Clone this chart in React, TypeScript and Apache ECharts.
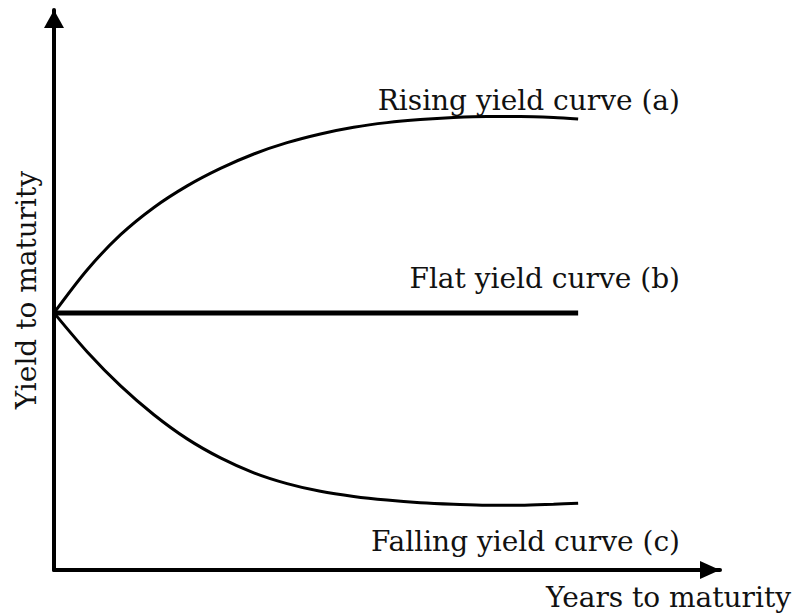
import React, { useEffect, useRef } from "react";
import * as echarts from "echarts";

const years = [0, 0.5, 1, 1.5, 2, 2.5, 3, 3.5, 4, 4.5, 5, 5.5, 6, 6.5, 7, 7.5, 7.87];
const rising = [5.0, 5.84, 6.52, 7.05, 7.47, 7.81, 8.09, 8.31, 8.48, 8.61, 8.7, 8.76, 8.8, 8.82, 8.82, 8.8, 8.77];
const flat = [5, 5, 5, 5, 5, 5, 5, 5, 5, 5, 5, 5, 5, 5, 5, 5, 5];
const falling = [5.0, 4.24, 3.58, 3.02, 2.55, 2.18, 1.89, 1.68, 1.53, 1.43, 1.36, 1.31, 1.28, 1.26, 1.26, 1.28, 1.3];
const curveLabels = ["Rising yield curve (a)", "Flat yield curve (b)", "Falling yield curve (c)"];
const xAxisName = "Years to maturity";
const yAxisName = "Yield to maturity";

const FONT = "'DejaVu Serif', 'Liberation Serif', serif";
const FS = 28;

export default function App() {
  const ref = useRef<HTMLDivElement>(null);
  useEffect(() => {
    if (!ref.current) return;
    const chart = echarts.init(ref.current, null, { renderer: "svg" });
    const pair = (ys: number[]) => years.map((x, i) => [x, ys[i]]);
    const label = (text: string, x: number, y: number) => ({
      type: "text",
      x,
      y,
      style: { text, align: "right", verticalAlign: "middle", font: `${FS}px ${FONT}`, fill: "#111" },
    });
    chart.setOption({
      animation: false,
      backgroundColor: "#ffffff",
      grid: { left: 54, top: 10, width: 666, height: 560 },
      xAxis: {
        type: "value",
        min: 0,
        max: 10,
        axisLabel: { show: false },
        axisTick: { show: false },
        splitLine: { show: false },
        axisLine: {
          show: true,
          symbol: ["none", "triangle"],
          symbolSize: [18, 20],
          symbolOffset: [0, -10],
          lineStyle: { color: "#000", width: 4 },
        },
      },
      yAxis: {
        type: "value",
        min: 0,
        max: 10.89,
        name: yAxisName,
        nameLocation: "middle",
        nameGap: 14,
        nameTextStyle: { fontFamily: FONT, fontSize: FS, color: "#111" },
        axisLabel: { show: false },
        axisTick: { show: false },
        splitLine: { show: false },
        axisLine: {
          show: true,
          symbol: ["none", "triangle"],
          symbolSize: [20, 18],
          symbolOffset: [0, -9],
          lineStyle: { color: "#000", width: 4 },
        },
      },
      series: [
        {
          type: "line",
          name: curveLabels[0],
          data: pair(rising),
          smooth: 0.3,
          showSymbol: false,
          lineStyle: { color: "#000", width: 3 },
        },
        {
          type: "line",
          name: curveLabels[1],
          data: pair(flat),
          showSymbol: false,
          lineStyle: { color: "#000", width: 5 },
        },
        {
          type: "line",
          name: curveLabels[2],
          data: pair(falling),
          smooth: 0.3,
          showSymbol: false,
          lineStyle: { color: "#000", width: 3 },
        },
      ],
      graphic: [
        label(curveLabels[0], 680, 100),
        label(curveLabels[1], 680, 278),
        label(curveLabels[2], 680, 541),
        label(xAxisName, 791, 597),
      ],
    });
    return () => chart.dispose();
  }, []);
  return <div ref={ref} style={{ position: "fixed", left: 0, top: 0, width: 794, height: 613 }} />;
}
